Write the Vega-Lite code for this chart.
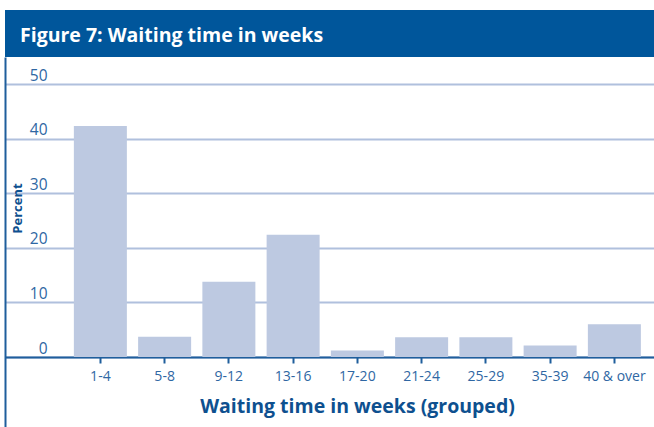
{
  "$schema": "https://vega.github.io/schema/vega-lite/v6.json",
  "padding": {"left": 5, "top": 10, "right": 0, "bottom": 0},
  "background": "white",
  "spacing": 0,
  "config": {"font": "Open Sans", "concat": {"spacing": 0}},
  "vconcat": [
    {
      "width": 649,
      "height": 47,
      "view": {"fill": "#00569b", "stroke": null},
      "data": {"values": []},
      "mark": "rect",
      "encoding": {},
      "title": {
        "text": "Figure 7: Waiting time in weeks",
        "orient": "bottom",
        "anchor": "start",
        "frame": "group",
        "offset": -15,
        "baseline": "alphabetic",
        "dx": 15,
        "color": "white",
        "font": "Open Sans",
        "fontSize": 19.5,
        "fontWeight": "bold"
      }
    },
    {
      "width": 649,
      "height": 370,
      "view": {"stroke": null},
      "data": {
        "values": [
          {"group": "1-4", "percent": 42.3},
          {"group": "5-8", "percent": 3.7},
          {"group": "9-12", "percent": 13.8},
          {"group": "13-16", "percent": 22.4},
          {"group": "17-20", "percent": 1.2},
          {"group": "21-24", "percent": 3.6},
          {"group": "25-29", "percent": 3.6},
          {"group": "35-39", "percent": 2.1},
          {"group": "40 & over", "percent": 6.0}
        ]
      },
      "mark": {"type": "bar", "color": "#bdc9e1"},
      "encoding": {
        "x": {
          "field": "group",
          "type": "nominal",
          "sort": null,
          "scale": {"paddingInner": 0.175, "paddingOuter": 0.638, "align": 0.84},
          "axis": {
            "orient": "bottom",
            "offset": -70,
            "domainColor": "#1f5e9c",
            "domainWidth": 2,
            "tickColor": "#1f5e9c",
            "tickWidth": 2,
            "tickSize": 6,
            "labelAngle": 0,
            "labelColor": "#2f67a3",
            "labelFont": "Open Sans",
            "labelFontSize": 14,
            "labelPadding": 6,
            "title": "Waiting time in weeks (grouped)",
            "titleFont": "Open Sans",
            "titleFontSize": 19.5,
            "titleFontWeight": "bold",
            "titleColor": "#0e508f",
            "titleX": 352,
            "titleY": 55,
            "titleAnchor": "middle",
            "titleAlign": "center",
            "titleBaseline": "alphabetic"
          }
        },
        "y": {
          "field": "percent",
          "type": "quantitative",
          "scale": {"domain": [-12.82, 54.95], "nice": false, "zero": false},
          "axis": {
            "values": [0, 10, 20, 30, 40, 50],
            "domainColor": "#1f5e9c",
            "domainWidth": 2,
            "ticks": false,
            "tickSize": 0,
            "grid": true,
            "gridColor": "#b0c0dd",
            "gridWidth": 2,
            "labelAlign": "right",
            "labelBaseline": "bottom",
            "labelPadding": -42,
            "labelOffset": -1,
            "labelColor": "#2f67a3",
            "labelFont": "Open Sans",
            "labelFontSize": 15.5,
            "title": "Percent",
            "titleFont": "Open Sans",
            "titleFontSize": 13,
            "titleFontWeight": "bold",
            "titleColor": "#0e508f",
            "titleAngle": -90,
            "titleX": 12,
            "titleY": 151,
            "titleAlign": "center",
            "titleBaseline": "middle"
          }
        }
      }
    }
  ]
}
